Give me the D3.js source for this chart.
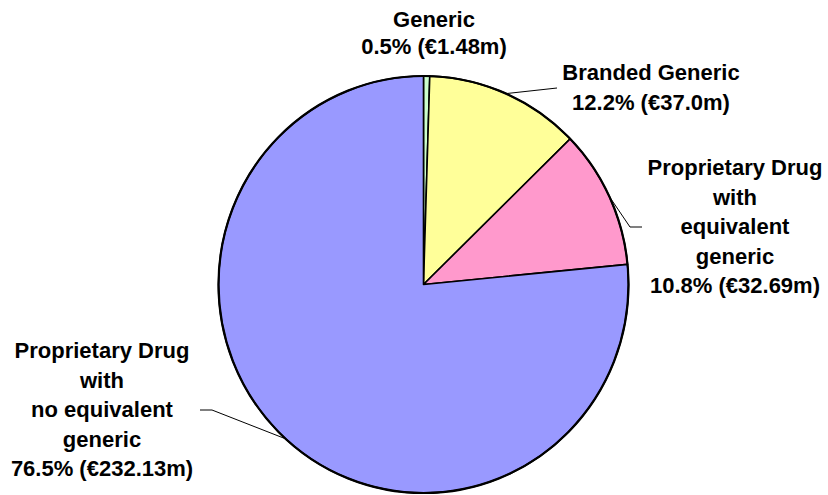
<!DOCTYPE html>
<html><head><meta charset="utf-8">
<script src="https://cdn.jsdelivr.net/npm/d3@7"></script>
<style>
html,body{margin:0;padding:0;background:#fff;}
svg text{font-family:"Liberation Sans",Arial,sans-serif;font-weight:bold;font-size:22px;fill:#000;}
</style></head>
<body>
<svg id="chart" width="828" height="495"></svg>
<script>
const categories = ["Generic", "Branded Generic", "Proprietary Drug with equivalent generic", "Proprietary Drug with no equivalent generic"];
const amounts = [1.48, 37.0, 32.69, 232.13];
const percentLabels = ["0.5% (€1.48m)", "12.2% (€37.0m)", "10.8% (€32.69m)", "76.5% (€232.13m)"];
const nameLines = [["Generic"], ["Branded Generic"], ["Proprietary Drug", "with", "equivalent", "generic"], ["Proprietary Drug", "with", "no equivalent", "generic"]];
const colors = ["#CCFFCC", "#FFFF99", "#FF99CC", "#9999FF"];

const svg = d3.select("#chart");
const cx = 423.5, cy = 284.5, rx = 205, ry = 208.5;
const sy = ry / rx;

const pie = d3.pie().sort(null).value(d => d)(amounts);
const arc = d3.arc().innerRadius(0).outerRadius(rx);

const g = svg.append("g").attr("transform", `translate(${cx},${cy}) scale(1,${sy})`);
g.selectAll("path").data(pie).join("path")
  .attr("d", arc)
  .attr("fill", (d, i) => colors[i])
  .attr("stroke", "#000")
  .attr("stroke-width", 1.6)
  .attr("stroke-linejoin", "round");
g.append("circle").attr("r", rx).attr("fill", "none").attr("stroke", "#000").attr("stroke-width", 2.2);

// label layout (positions only)
const labelPos = [
  {x: 434, y: 27, line: 27},
  {x: 651, y: 80, line: 30},
  {x: 735, y: 175, line: 29.5},
  {x: 102, y: 358, line: 29.5}
];
// leader line elbows
const leaders = [
  null,
  [[557, 88]],
  [[630, 227], [642, 227]],
  [[212, 410], [200, 410]]
];

function edgePoint(d) {
  const a = (d.startAngle + d.endAngle) / 2;
  return [cx + rx * Math.sin(a), cy - ry * Math.cos(a)];
}

pie.forEach((d, i) => {
  if (leaders[i]) {
    const pts = [edgePoint(d)].concat(leaders[i]);
    svg.append("path")
      .attr("d", d3.line()(pts))
      .attr("fill", "none")
      .attr("stroke", "#000")
      .attr("stroke-width", 1);
  }
  const lp = labelPos[i];
  const lines = nameLines[i].concat([percentLabels[i]]);
  const t = svg.append("text").attr("text-anchor", "middle");
  lines.forEach((s, k) => {
    t.append("tspan").attr("x", lp.x).attr("y", lp.y + k * lp.line).text(s);
  });
});
</script>
</body></html>
